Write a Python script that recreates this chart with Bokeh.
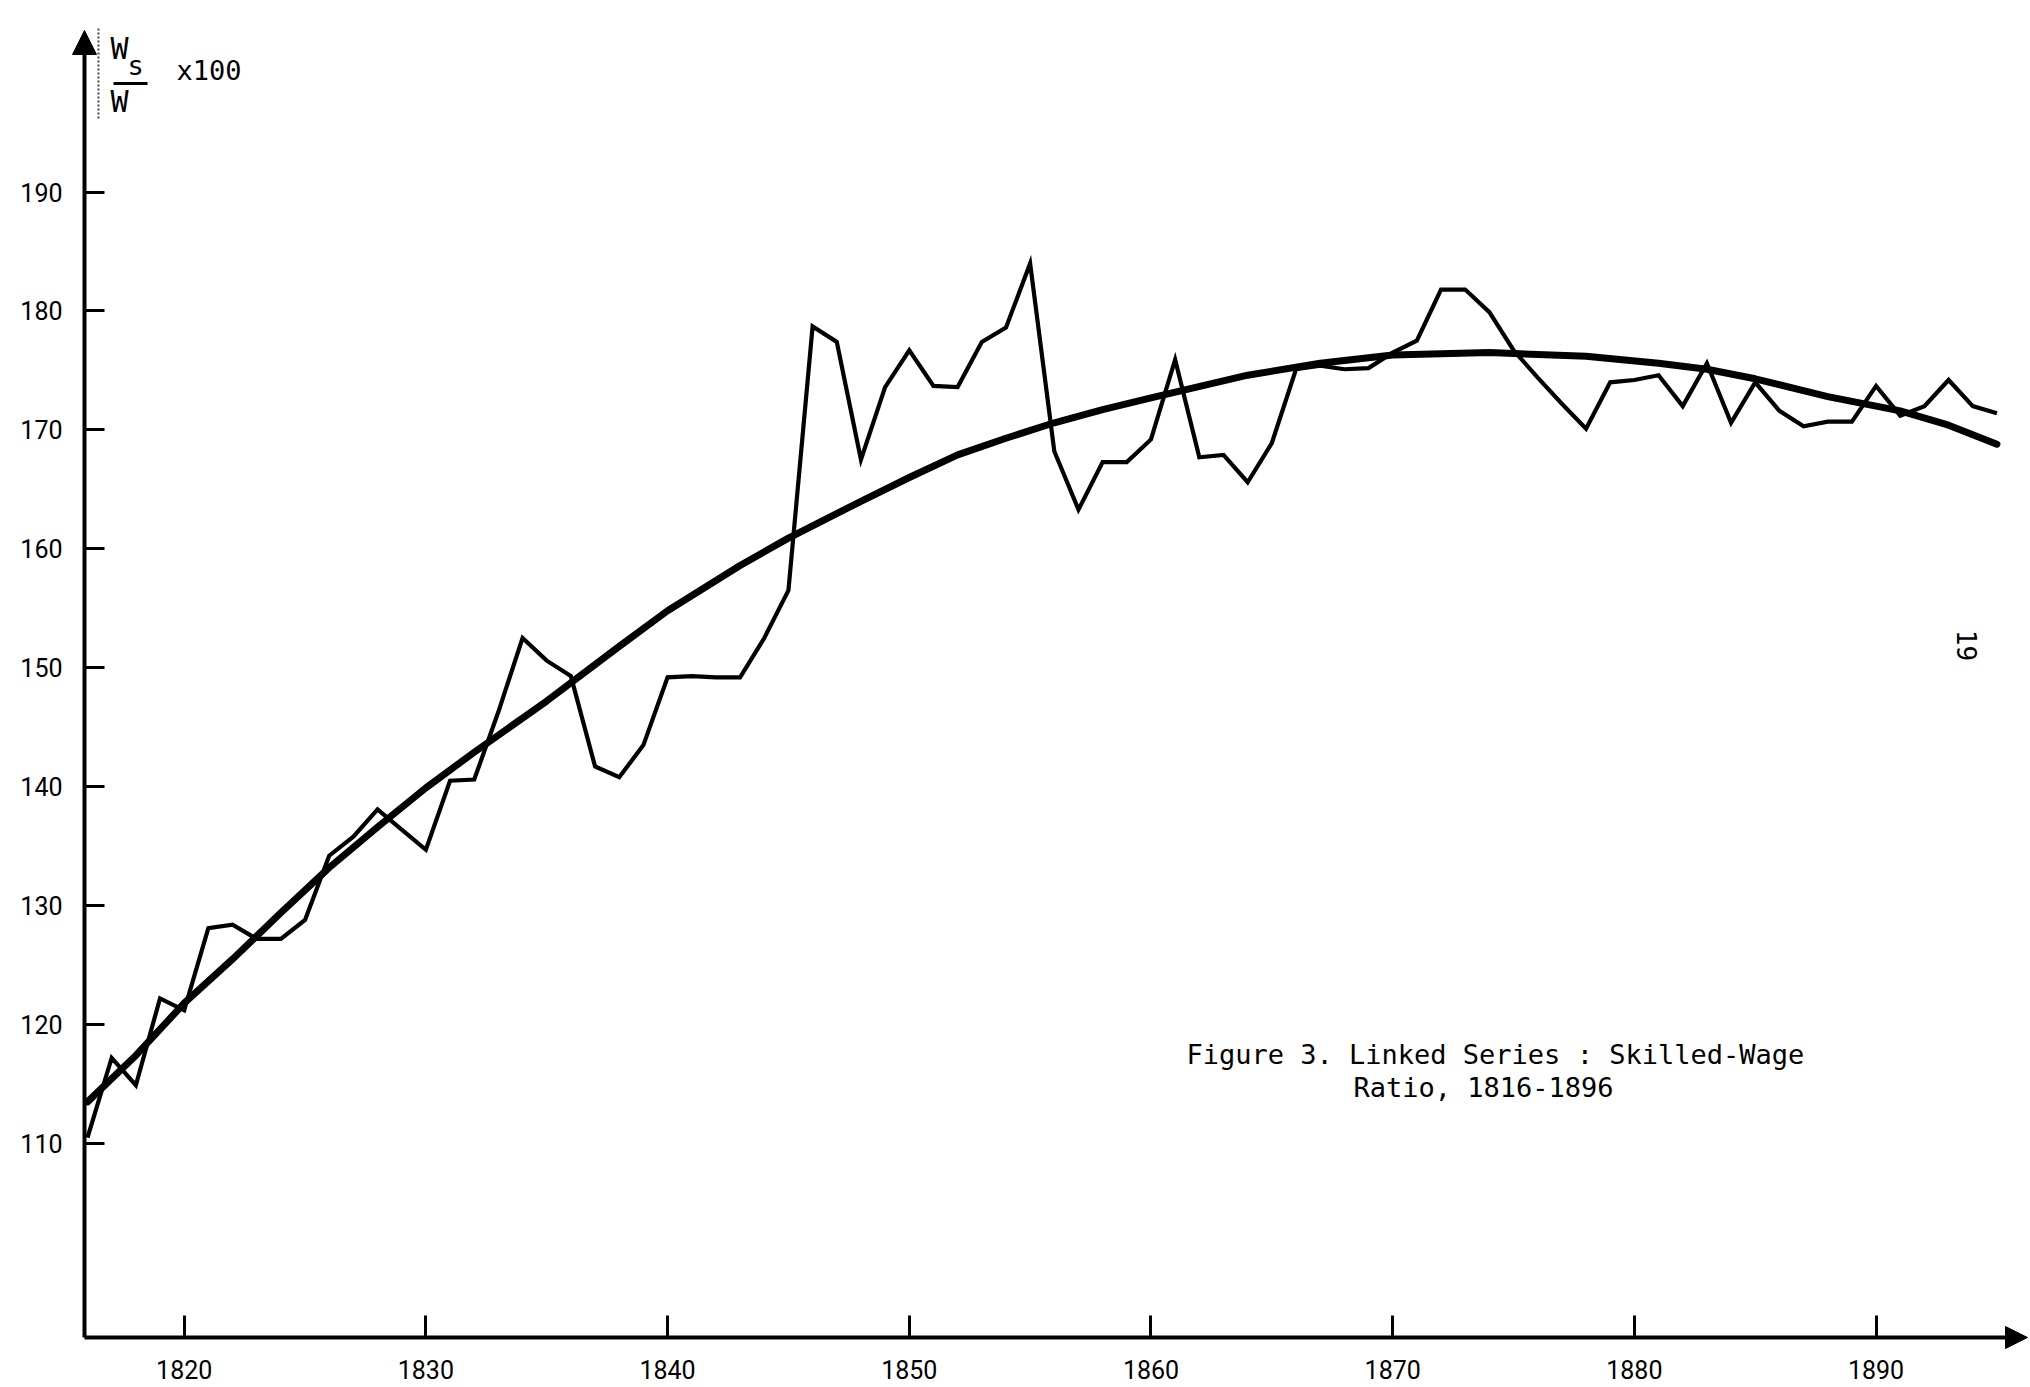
import math
from bokeh.plotting import figure
from bokeh.models import Range1d, FixedTicker, Arrow, NormalHead, Label, BoxAnnotation
from bokeh.embed import file_html
from bokeh.resources import INLINE

# ---------------- data ----------------
years = list(range(1816, 1896))
skilled_wage_ratio = [
    110.5, 117.2, 114.9, 122.2, 121.2,   # 1816-1820
    128.1, 128.4, 127.2, 127.2, 128.8,   # 1821-1825
    134.2, 135.8, 138.1, 136.4, 134.7,   # 1826-1830
    140.5, 140.6, 146.3, 152.5, 150.6,   # 1831-1835
    149.3, 141.7, 140.8, 143.5, 149.2,   # 1836-1840
    149.3, 149.2, 149.2, 152.5, 156.5,   # 1841-1845
    178.7, 177.4, 167.5, 173.6, 176.7,   # 1846-1850
    173.7, 173.6, 177.4, 178.6, 184.0,   # 1851-1855
    168.2, 163.3, 167.3, 167.3, 169.2,   # 1856-1860
    175.9, 167.7, 167.9, 165.6, 168.9,   # 1861-1865
    175.1, 175.4, 175.1, 175.2, 176.5,   # 1866-1870
    177.5, 181.8, 181.8, 179.9, 176.7,   # 1871-1875
    174.4, 172.2, 170.1, 174.0, 174.2,   # 1876-1880
    174.6, 172.0, 175.6, 170.6, 174.0,   # 1881-1885
    171.6, 170.3, 170.7, 170.7, 173.7,   # 1886-1890
    171.2, 172.0, 174.2, 172.0, 171.4,   # 1891-1895
]

trend_years = [1816, 1818, 1820, 1822, 1824, 1826, 1828, 1830, 1832, 1835,
               1838, 1840, 1843, 1845, 1848, 1850, 1852, 1854, 1856, 1858,
               1860, 1864, 1867, 1870, 1874, 1878, 1881, 1883, 1885, 1888,
               1891, 1893, 1895]
trend_values = [113.5, 117.4, 121.8, 125.5, 129.4, 133.2, 136.6, 139.9, 142.9, 147.2,
                151.8, 154.8, 158.6, 160.9, 164.0, 166.0, 167.9, 169.3, 170.6, 171.7,
                172.7, 174.6, 175.6, 176.3, 176.5, 176.2, 175.6, 175.1, 174.3, 172.8,
                171.6, 170.4, 168.8]

x_ticks = [1820, 1830, 1840, 1850, 1860, 1870, 1880, 1890]
y_ticks = [110, 120, 130, 140, 150, 160, 170, 180, 190]

title_line1 = "Figure 3. Linked Series : Skilled-Wage"
title_line2 = "Ratio, 1816-1896"

# ---------------- layout ----------------
W, H = 2030, 1387
PX_YEAR = 24.17         # pixels per year
PX_UNIT = 11.893        # pixels per ratio unit
AX_X = 84               # pixel column of the vertical axis
AX_Y = 1337             # pixel row of the horizontal axis

x0 = 1816 - 87 / PX_YEAR
x1 = x0 + W / PX_YEAR
y0 = 110 - (H - 1143) / PX_UNIT
y1 = y0 + H / PX_UNIT


def X(px):
    return x0 + px / PX_YEAR


def Y(py):
    return y0 + (H - py) / PX_UNIT


p = figure(width=W, height=H, output_backend="svg", toolbar_location=None, title=None,
           x_range=Range1d(x0, x1), y_range=Range1d(y0, y1),
           min_border=0, min_border_left=0, min_border_right=0,
           min_border_top=0, min_border_bottom=0,
           background_fill_color="white", border_fill_color="white")
p.outline_line_color = None
p.xgrid.visible = False
p.ygrid.visible = False

p.xaxis.fixed_location = Y(AX_Y)
p.yaxis.fixed_location = X(AX_X)

for ax in (p.xaxis, p.yaxis):
    ax.axis_line_color = None
    ax.major_tick_out = 0
    ax.minor_tick_in = 0
    ax.minor_tick_out = 0
    ax.major_tick_line_color = "black"
    ax.major_tick_line_width = 3
    ax.major_label_text_font = "Roboto"
    ax.major_label_text_font_size = "25px"
    ax.major_label_text_color = "black"
p.xaxis.ticker = FixedTicker(ticks=x_ticks)
p.yaxis.ticker = FixedTicker(ticks=y_ticks)
p.xaxis.major_tick_in = 22
p.yaxis.major_tick_in = 20
p.xaxis.major_label_standoff = 22
p.yaxis.major_label_standoff = 22

# axis lines with arrow heads
p.add_layout(Arrow(end=NormalHead(size=24, fill_color="black", line_color="black", line_width=1),
                   x_start=X(AX_X), y_start=Y(AX_Y), x_end=X(AX_X), y_end=Y(30),
                   line_width=4, line_color="black"))
p.add_layout(Arrow(end=NormalHead(size=22, fill_color="black", line_color="black", line_width=1),
                   x_start=X(AX_X), y_start=Y(AX_Y), x_end=X(2027), y_end=Y(AX_Y),
                   line_width=4, line_color="black"))

# data
p.line(years, skilled_wage_ratio, line_color="black", line_width=4.2, line_join="miter")
p.line(trend_years, trend_values, line_color="black", line_width=7, line_join="round",
       line_cap="round")

# y-axis quantity label  Ws / W  x100
mono = "DejaVu Sans Mono"
txt = dict(text_font=mono, text_font_size="27px", text_color="black",
           text_align="left", text_baseline="middle")
big = dict(txt, text_font_size="30px")
p.add_layout(Label(x=X(110), y=Y(48), text="W", **big))
p.add_layout(Label(x=X(127), y=Y(65), text="s", **txt))
p.add_layout(BoxAnnotation(left=X(113), right=X(147), top=Y(81.5), bottom=Y(84.5),
                           fill_color="black", fill_alpha=1.0, line_color=None))
p.add_layout(Label(x=X(110), y=Y(101), text="W", **big))
p.add_layout(Label(x=X(176), y=Y(70), text="x100", **txt))
p.add_layout(Arrow(end=None, x_start=X(98), y_start=Y(28), x_end=X(98), y_end=Y(118),
                   line_dash="2 2", line_width=2, line_color="#444444"))

# caption
cap = dict(text_font=mono, text_font_size="27px", text_color="black",
           text_align="left", text_baseline="middle")
p.add_layout(Label(x=X(1186), y=Y(1054), text=title_line1, **cap))
p.add_layout(Label(x=X(1353), y=Y(1087), text=title_line2, **cap))

# page number (rotated)
p.add_layout(Label(x=X(1966), y=Y(645), text="19", angle=-math.pi / 2,
                   text_font=mono, text_font_size="26px", text_color="black",
                   text_align="center", text_baseline="middle"))

open("out.html", "w").write(file_html(p, INLINE))
